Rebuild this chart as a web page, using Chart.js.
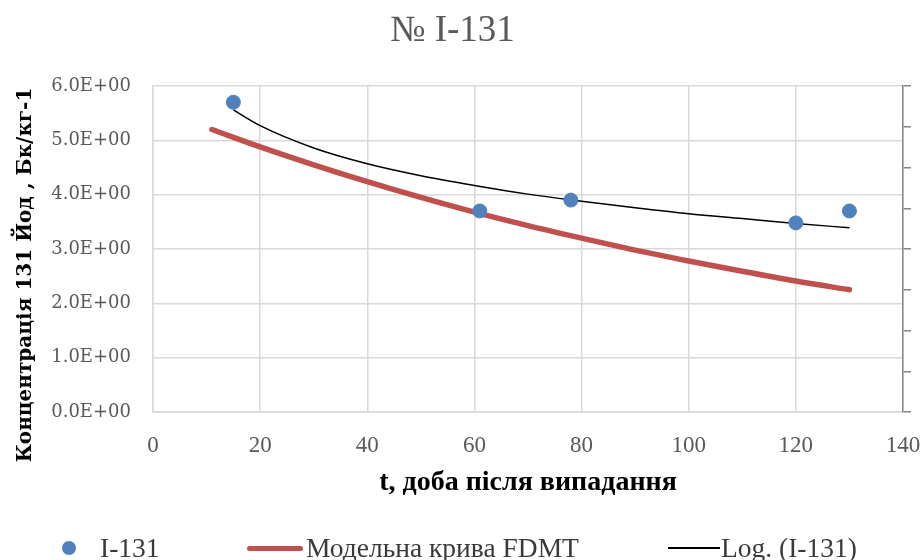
<!DOCTYPE html>
<html>
<head>
<meta charset="utf-8">
<script src="https://cdn.jsdelivr.net/npm/chart.js@4/dist/chart.umd.min.js"></script>
<style>
  html, body { margin: 0; padding: 0; background: #fff; }
  #wrap { position: relative; width: 923px; height: 560px; overflow: hidden; }
  #c { position: absolute; left: 0; top: 0; }
  #title { position: absolute; left: 0; width: 905px; top: 8px; text-align: center;
           font-family: "Liberation Serif", serif; font-size: 37px; color: #595959; line-height: 42px; }
  .lg { position: absolute; font-family: "Liberation Serif", serif; font-size: 27.5px; color: #3a3a3a;
        line-height: 30px; top: 533px; white-space: nowrap; }
  .mk { position: absolute; }
</style>
</head>
<body>
<div id="wrap">
  <canvas id="c" width="923" height="560"></canvas>
  <div id="title">№ I-131</div>
  <div id="legend"></div>
</div>
<script>
// ---- data ----
const obsDays   = [15, 61, 78, 120, 130];
const obsConc   = [5.7, 3.7, 3.9, 3.48, 3.7];

const modelDays = [11, 20, 30, 40, 50, 60, 70, 80, 90, 100, 110, 120, 130];
const modelConc = [5.20, 4.88, 4.55, 4.24, 3.95, 3.68, 3.43, 3.20, 2.98, 2.78, 2.59, 2.41, 2.25];

const logDays   = [15, 20, 30, 40, 50, 60, 70, 80, 90, 100, 110, 120, 130];
const logConc   = [5.56, 5.27, 4.86, 4.57, 4.35, 4.17, 4.01, 3.88, 3.76, 3.65, 3.56, 3.47, 3.39];

const yTickLabels = ['0.0E+00', '1.0E+00', '2.0E+00', '3.0E+00', '4.0E+00', '5.0E+00', '6.0E+00'];
const seriesNames = ['I-131', 'Модельна крива FDMT', 'Log. (I-131)'];
const xTitle = 't, доба після випадання';
const yTitle = 'Концентрація 131 Йод , Бк/кг-1';

const toXY = (xs, ys) => xs.map((x, i) => ({ x: x, y: ys[i] }));

const COLORS = { obs: '#4F81BD', model: '#C0504D', log: '#000000' };

const yTitlePlugin = {
  id: 'yTitlePlugin',
  afterDraw(chart) {
    const ctx = chart.ctx;
    ctx.save();
    ctx.translate(26, 275);
    ctx.rotate(-Math.PI / 2);
    ctx.font = 'bold 20px "DejaVu Serif", serif';
    ctx.fillStyle = '#000';
    ctx.textAlign = 'center';
    ctx.textBaseline = 'middle';
    ctx.fillText(yTitle, 0, 0);
    ctx.restore();
  }
};

const gridColor = '#d9d9d9';

new Chart(document.getElementById('c'), {
  type: 'scatter',
  data: {
    datasets: [
      {
        label: seriesNames[0],
        data: toXY(obsDays, obsConc),
        backgroundColor: COLORS.obs,
        borderColor: COLORS.obs,
        pointRadius: 7,
        pointHoverRadius: 7,
        showLine: false,
        order: 0
      },
      {
        label: seriesNames[1],
        type: 'line',
        data: toXY(modelDays, modelConc),
        borderColor: COLORS.model,
        borderWidth: 5.5,
        borderCapStyle: 'round',
        pointRadius: 0,
        fill: false,
        cubicInterpolationMode: 'monotone',
        order: 2
      },
      {
        label: seriesNames[2],
        type: 'line',
        data: toXY(logDays, logConc),
        borderColor: COLORS.log,
        borderWidth: 1.5,
        pointRadius: 0,
        fill: false,
        cubicInterpolationMode: 'monotone',
        order: 1
      }
    ]
  },
  options: {
    responsive: false,
    animation: false,
    layout: { padding: { top: 86, bottom: 60, left: 0, right: 0 } },
    plugins: {
      legend: { display: false },
      title: { display: false },
      tooltip: { enabled: false }
    },
    scales: {
      x: {
        type: 'linear',
        min: 0, max: 140,
        ticks: {
          stepSize: 20,
          padding: 20,
          color: '#595959',
          font: { family: '"Liberation Serif", serif', size: 23 },
          maxRotation: 0
        },
        grid: { color: gridColor, lineWidth: 1.5, drawTicks: false },
        border: { color: gridColor, width: 1.5 },
        title: {
          display: true,
          text: xTitle,
          color: '#000',
          font: { family: '"Liberation Serif", serif', size: 28, weight: 'bold' },
          padding: { top: 0, bottom: 0 }
        },
        afterFit(scale) { scale.height = 88; scale.paddingRight = 0; scale.paddingLeft = 0; }
      },
      y: {
        type: 'linear',
        position: 'left',
        min: 0, max: 6,
        ticks: {
          stepSize: 1,
          padding: 22,
          color: '#595959',
          font: { family: '"DejaVu Serif", serif', size: 18 },
          callback: (v, i) => yTickLabels[i]
        },
        grid: { color: gridColor, lineWidth: 1.5, drawTicks: false },
        border: { color: gridColor, width: 1.5 },
        afterFit(scale) { scale.width = 153; }
      },
      y2: {
        type: 'linear',
        position: 'right',
        min: 0, max: 8,
        ticks: { stepSize: 1, display: false },
        grid: { drawOnChartArea: false, drawTicks: true, tickLength: 8, color: '#868686', lineWidth: 1.5 },
        border: { color: '#868686', width: 1.5 },
        afterFit(scale) { scale.width = 20; }
      }
    }
  },
  plugins: [yTitlePlugin]
});

// ---- HTML legend ----
const legend = document.getElementById('legend');
function add(html) { legend.insertAdjacentHTML('beforeend', html); }
add('<div class="mk" style="left:62px;top:541px;width:14px;height:14px;border-radius:50%;background:' + COLORS.obs + '"></div>');
add('<div class="lg" style="left:100px">' + seriesNames[0] + '</div>');
add('<div class="mk" style="left:247px;top:545.5px;width:56px;height:5px;border-radius:3px;background:' + COLORS.model + '"></div>');
add('<div class="lg" style="left:306px">' + seriesNames[1] + '</div>');
add('<div class="mk" style="left:668px;top:547px;width:52px;height:1.5px;background:' + COLORS.log + '"></div>');
add('<div class="lg" style="left:721px">' + seriesNames[2] + '</div>');
</script>
</body>
</html>
